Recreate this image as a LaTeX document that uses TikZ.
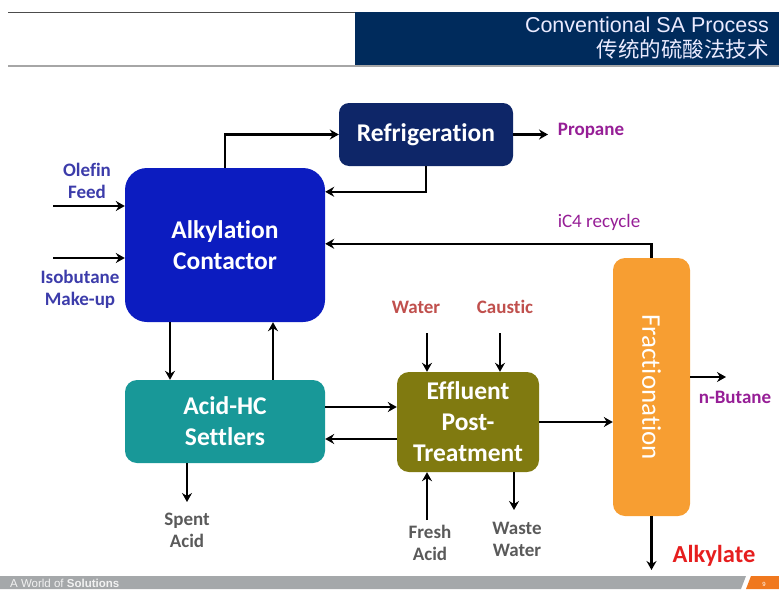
\documentclass[tikz,border=0pt]{standalone}
\usepackage{fontspec}
\setmainfont{Carlito}[Ligatures=NoCommon]
\newfontfamily\headfont{Liberation Sans}
\newfontfamily\cjk{Noto Sans CJK SC}
\usetikzlibrary{arrows.meta}

\begin{document}
\begin{tikzpicture}
		[x=1pt,y=-1pt,
		%Styles
		unit/.style={rounded corners=#1,inner sep=0pt,text=white,align=center,
			font=\bfseries\fontsize{25.5}{31}\selectfont},
		unit/.default=12pt,
		stream/.style={inner sep=0pt,align=center,font=\bfseries\fontsize{19}{22}\selectfont},
		flow/.style={line width=2.4pt,-{Stealth[length=9pt,width=10pt,inset=3pt]}}
		]
		
		%Colors
		\definecolor{headnavy}{RGB}{0,43,92}
		\definecolor{refrcolor}{RGB}{14,38,104}
		\definecolor{alkcolor}{RGB}{12,28,192}
		\definecolor{settlcolor}{RGB}{24,152,152}
		\definecolor{efflcolor}{RGB}{128,122,16}
		\definecolor{fraccolor}{RGB}{247,158,50}
		\definecolor{feedcolor}{RGB}{60,60,170}
		\definecolor{productcolor}{RGB}{150,30,150}
		\definecolor{utilcolor}{RGB}{192,80,77}
		\definecolor{wastecolor}{RGB}{90,90,90}
		\definecolor{alkylatecolor}{RGB}{230,30,30}
		\definecolor{footgray}{RGB}{165,168,170}
		\definecolor{footorange}{RGB}{240,120,30}
		
		\useasboundingbox (0,0) rectangle (779,589);
		
		%Header and footer
		\fill[headnavy] (355,12) rectangle (779,65);
		\draw[line width=1pt,black!70] (8,12) -- (355,12);
		\draw[line width=2pt,black!35] (8,66) -- (779,66);
		\node[anchor=base east,inner sep=0pt,text=white!92!blue,font=\headfont\fontsize{21.5}{24}\selectfont] (title) at (769,32) {Conventional SA Process};
		\node[anchor=base east,inner sep=0pt,text=white!92!blue,font=\cjk\fontsize{21.5}{24}\selectfont] (subtitle) at (769,57) {传统的硫酸法技术};
		\fill[footgray] (0,576) -- (746,576) -- (741,589) -- (0,589) -- cycle;
		\fill[footorange] (751,576) -- (779,576) -- (779,589) -- (746,589) -- cycle;
		\node[anchor=base west,inner sep=0pt,text=white!90!gray,font=\headfont\fontsize{11.5}{12}\selectfont] (brand) at (10,587.5) {A World of \textbf{Solutions}};
		\node[inner sep=0pt,text=white,font=\headfont\fontsize{6}{7}\selectfont] (page) at (764,584) {9};
		
		%Units
		\node[unit=10pt,fill=refrcolor,minimum width=174pt,minimum height=63pt] (refr) at (426,134.5) {Refrigeration};
		\node[unit=22pt,fill=alkcolor,minimum width=200pt,minimum height=154pt] (alk) at (225,245) {Alkylation\\Contactor};
		\node[unit,fill=settlcolor,minimum width=200pt,minimum height=83pt] (settl) at (225,421.5) {Acid-HC\\Settlers};
		\node[unit,fill=efflcolor,minimum width=142pt,minimum height=100pt] (effl) at (468,422) {Effluent\\Post-\\Treatment};
		\node[unit,fill=fraccolor,minimum width=77pt,minimum height=258pt] (frac) at (651.5,387) {};
		\node[rotate=-90,inner sep=0pt,text=white,font=\fontsize{27}{30}\selectfont] (fractext) at (frac.center) {Fractionation};
		
		%Streams
		\node[stream,text=feedcolor] (olefin) at (87,181) {Olefin\\Feed};
		\node[stream,text=feedcolor] (isobutane) at (80,289) {Isobutane\\Make-up};
		\node[stream,text=productcolor] (propane) at (591,131) {Propane};
		\node[stream,text=productcolor,font=\fontsize{19}{22}\selectfont] (ic4) at (599,222) {iC4 recycle};
		\node[stream,text=utilcolor] (water) at (416,307) {Water};
		\node[stream,text=utilcolor] (caustic) at (505,307) {Caustic};
		\node[stream,text=wastecolor] (spent) at (187,530) {Spent\\Acid};
		\node[stream,text=wastecolor] (fresh) at (430,543) {Fresh\\Acid};
		\node[stream,text=wastecolor] (waste) at (517,539) {Waste\\Water};
		\node[stream,text=productcolor] (butane) at (735,397) {n-Butane};
		\node[stream,text=alkylatecolor,font=\bfseries\fontsize{24.5}{26}\selectfont] (alkylate) at (714,556) {Alkylate};
		
		\coordinate (olefin in) at (53,206);
		\coordinate (isobutane in) at (53,258);
		\coordinate (propane out) at (548,134.5);
		\coordinate (water in) at (427,333);
		\coordinate (caustic in) at (500,333);
		\coordinate (fresh in) at (427,520);
		\coordinate (waste out) at (514,510);
		\coordinate (spent out) at (187,502);
		\coordinate (butane out) at (726,377);
		\coordinate (alkylate out) at (651.5,570);
		
		\path[flow]
			(olefin in) edge (olefin in -| alk.west)
			(isobutane in) edge (isobutane in -| alk.west)
			(refr.east) edge (propane out)
			([xshift=-55pt]alk.south) edge ([xshift=-55pt]settl.north)
			([xshift=48pt]settl.north) edge ([xshift=48pt]alk.south)
			([yshift=14.5pt]settl.east) edge ([yshift=14.5pt]settl.east -| effl.west)
			([yshift=-17.5pt]settl.east -| effl.west) edge ([yshift=-17.5pt]settl.east)
			([xshift=-38pt]settl.south) edge (spent out)
			(water in) edge (water in |- effl.north)
			(caustic in) edge (caustic in |- effl.north)
			(fresh in) edge (fresh in |- effl.south)
			([xshift=46pt]effl.south) edge (waste out)
			(effl.east) edge (effl.east -| frac.west)
			([yshift=10pt]frac.east) edge (butane out)
			(frac.south) edge (alkylate out);
		
		\draw[flow] (alk.north) |- (refr.west);
		\draw[flow] (refr.south) |- ([yshift=-24pt]alk.north east);
		\draw[flow] (frac.north) |- ([yshift=-76pt]alk.north east);
	\end{tikzpicture}
\end{document}
